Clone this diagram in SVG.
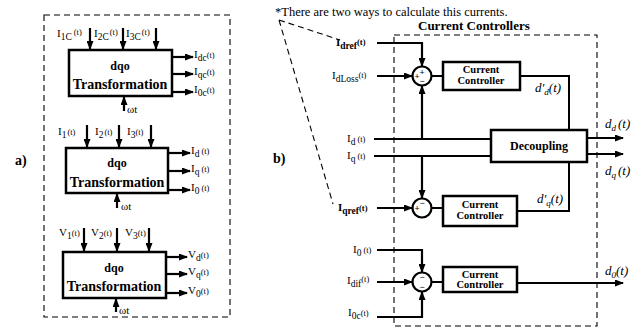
<svg xmlns="http://www.w3.org/2000/svg" width="636" height="329" viewBox="0 0 636 329">
<defs>
<marker id="ah" markerUnits="userSpaceOnUse" markerWidth="9" markerHeight="7" refX="8" refY="3.5" orient="auto">
<path d="M0,0 L9,3.5 L0,7 z" fill="#000"/>
</marker>
<style>
text{font-family:"Liberation Serif","Times New Roman",serif;fill:#000}
.blk{fill:#fff;stroke:#000;stroke-width:2.5}
.ln{fill:none;stroke:#000;stroke-width:2}
.la{fill:none;stroke:#000;stroke-width:2.2;marker-end:url(#ah)}
.dash{fill:none;stroke:#000;stroke-width:1.1;stroke-dasharray:6 4}
.b{font-weight:bold}
.t1{font-size:14px;font-weight:bold;text-anchor:middle}
.t2{font-size:12px;font-weight:bold;text-anchor:middle}
.cc{font-size:10.5px;font-weight:bold;text-anchor:middle}
.lb{font-size:11px}
.s{font-size:9.5px}
.p{font-size:8.5px}
.it{font-style:italic;font-size:13px}
.sg{font-size:9px;font-weight:bold;text-anchor:middle}
</style>
</defs>

<!-- panel labels -->
<text x="15" y="165" font-size="14" class="b">a)</text>
<text x="273" y="163" font-size="14" class="b">b)</text>
<text x="275" y="16" font-size="12.5">*There are two ways to calculate this currents.</text>
<text x="418" y="30" font-size="13" class="b">Current Controllers</text>

<g id="connectors">
<!-- dashed frames -->
<rect class="dash" x="44" y="15" width="186" height="302"/>
<rect class="dash" x="394" y="35" width="203" height="291"/>
<path class="dash" d="M279,20 L340,40 M279,20 L333,204"/>

<!-- block 1 -->
<path class="la" d="M90,28 V49"/>
<path class="la" d="M123,28 V49"/>
<path class="la" d="M156,28 V49"/>
<path class="la" d="M173,57 H193"/>
<path class="la" d="M173,74 H193"/>
<path class="la" d="M173,92 H193"/>
<path class="la" d="M124,111 V97"/>
<!-- block 2 -->
<path class="la" d="M87,125 V147"/>
<path class="la" d="M119,125 V147"/>
<path class="la" d="M151,125 V147"/>
<path class="la" d="M169,153 H190"/>
<path class="la" d="M169,171 H190"/>
<path class="la" d="M169,190 H190"/>
<path class="la" d="M117,208 V194"/>
<!-- block 3 -->
<path class="la" d="M84,228 V251"/>
<path class="la" d="M117,228 V251"/>
<path class="la" d="M149,228 V251"/>
<path class="la" d="M167,257 H187"/>
<path class="la" d="M167,274 H187"/>
<path class="la" d="M167,293 H187"/>
<path class="la" d="M116,312 V299"/>

<!-- right -->
<path class="la" d="M377,43 H422 V66"/>
<path class="la" d="M377,76 H412"/>
<path class="ln" d="M374,139 H491"/>
<path class="ln" d="M374,156 H491"/>
<path class="la" d="M422,139 V86"/>
<path class="la" d="M422,156 V198"/>
<path class="la" d="M377,208 H412"/>
<path class="ln" d="M431.5,76 H443"/>
<path class="ln" d="M520,76 H569 V130"/>
<path class="ln" d="M569,162 V211 H517"/>
<path class="ln" d="M431.5,208 H443"/>
<path class="la" d="M588,138 H623"/>
<path class="la" d="M588,154 H623"/>
<path class="la" d="M377,250 H422 V272"/>
<path class="la" d="M377,282 H412"/>
<path class="la" d="M377,317 H422 V292"/>
<path class="ln" d="M431.5,282 H443"/>
<path class="la" d="M518,283 H623"/>
</g>

<!-- left nodes -->
<g id="dqo1">
<rect class="blk" x="69" y="50" width="103" height="46"/>
<text class="t2" x="120" y="70">dqo</text>
<text class="t1" x="120" y="89">Transformation</text>
</g>
<g id="dqo2">
<rect class="blk" x="66" y="148" width="102" height="45"/>
<text class="t2" x="117" y="167">dqo</text>
<text class="t1" x="117" y="187">Transformation</text>
</g>
<g id="dqo3">
<rect class="blk" x="63" y="252" width="103" height="46"/>
<text class="t2" x="114" y="272">dqo</text>
<text class="t1" x="114" y="291">Transformation</text>
</g>

<g id="leftlabels" class="lb">
<text x="57" y="37">I<tspan class="s" dy="3">1C</tspan><tspan class="p" dx="2" dy="-5">(t)</tspan></text>
<text x="94" y="37">I<tspan class="s" dy="3">2C</tspan><tspan class="p" dx="1" dy="-5">(t)</tspan></text>
<text x="126" y="37">I<tspan class="s" dy="3">3C</tspan><tspan class="p" dx="1" dy="-5">(t)</tspan></text>
<text x="194" y="58">I<tspan class="s" dy="3">dc</tspan><tspan class="p" dy="-3">(t)</tspan></text>
<text x="194" y="75">I<tspan class="s" dy="3">qc</tspan><tspan class="p" dy="-3">(t)</tspan></text>
<text x="194" y="93">I<tspan class="s" dy="3">0c</tspan><tspan class="p" dy="-3">(t)</tspan></text>
<text x="127" y="113">ωt</text>

<text x="58" y="135">I<tspan class="s" dy="3">1</tspan><tspan class="p" dx="1" dy="-3">(t)</tspan></text>
<text x="95" y="135">I<tspan class="s" dy="3">2</tspan><tspan class="p" dx="1" dy="-3">(t)</tspan></text>
<text x="127" y="135">I<tspan class="s" dy="3">3</tspan><tspan class="p" dy="-3">(t)</tspan></text>
<text x="191" y="154">I<tspan class="s" dy="3">d</tspan><tspan class="p" dx="2" dy="-3">(t)</tspan></text>
<text x="191" y="172">I<tspan class="s" dy="3">q</tspan><tspan class="p" dx="2" dy="-3">(t)</tspan></text>
<text x="191" y="191">I<tspan class="s" dy="3">0</tspan><tspan class="p" dx="2" dy="-3">(t)</tspan></text>
<text x="121" y="210">ωt</text>

<text x="59" y="236">V<tspan class="s" dy="3">1</tspan><tspan class="p" dy="-3">(t)</tspan></text>
<text x="91" y="236">V<tspan class="s" dy="3">2</tspan><tspan class="p" dy="-3">(t)</tspan></text>
<text x="125" y="236">V<tspan class="s" dy="3">3</tspan><tspan class="p" dy="-3">(t)</tspan></text>
<text x="188" y="258">V<tspan class="s" dy="3">d</tspan><tspan class="p" dy="-3">(t)</tspan></text>
<text x="188" y="275">V<tspan class="s" dy="3">q</tspan><tspan class="p" dy="-3">(t)</tspan></text>
<text x="188" y="294">V<tspan class="s" dy="3">0</tspan><tspan class="p" dy="-3">(t)</tspan></text>
<text x="119" y="314">ωt</text>
</g>

<!-- right nodes -->
<g id="sum1">
<circle cx="422" cy="76" r="9.5" fill="#fff" stroke="#000" stroke-width="2.2"/>
<text class="sg" x="422" y="75">+</text>
<text class="sg" x="417" y="79">+</text>
<text class="sg" x="422" y="84">−</text>
</g>
<g id="sum2">
<circle cx="422" cy="208" r="9.5" fill="#fff" stroke="#000" stroke-width="2.2"/>
<text class="sg" x="422" y="206">−</text>
<text class="sg" x="417" y="211">+</text>
</g>
<g id="sum3">
<circle cx="422" cy="282" r="9.5" fill="#fff" stroke="#000" stroke-width="2.2"/>
<text class="sg" x="422" y="280">−</text>
<text class="sg" x="422" y="290">−</text>
</g>
<g id="cc1">
<rect class="blk" x="443" y="62" width="77" height="28"/>
<text class="cc" x="481" y="73">Current</text>
<text class="cc" x="481" y="84">Controller</text>
</g>
<g id="cc2">
<rect class="blk" x="443" y="196" width="74" height="30"/>
<text class="cc" x="480" y="208">Current</text>
<text class="cc" x="480" y="219">Controller</text>
</g>
<g id="cc3">
<rect class="blk" x="443" y="267" width="74" height="25"/>
<text class="cc" x="480" y="278">Current</text>
<text class="cc" x="480" y="288">Controller</text>
</g>
<g id="decoupling">
<rect class="blk" x="491" y="130" width="96" height="32"/>
<text class="t2" x="539" y="150">Decoupling</text>
</g>

<g id="rightlabels" class="lb">
<text x="336" y="46" class="b">I<tspan class="s" dy="3">dref</tspan><tspan class="p" dy="-4">(t)</tspan></text>
<text x="332" y="79">I<tspan class="s" dy="3">dLoss</tspan><tspan class="p" dy="-4">(t)</tspan></text>
<text x="347" y="142">I<tspan class="s" dy="3">d</tspan><tspan class="p" dx="2" dy="-3">(t)</tspan></text>
<text x="347" y="159">I<tspan class="s" dy="3">q</tspan><tspan class="p" dx="2" dy="-3">(t)</tspan></text>
<text x="338" y="211" class="b">I<tspan class="s" dy="3">qref</tspan><tspan class="p" dy="-3">(t)</tspan></text>
<text x="353" y="253">I<tspan class="s" dy="3">0</tspan><tspan class="p" dx="2" dy="-3">(t)</tspan></text>
<text x="347" y="284">I<tspan class="s" dy="3">dif</tspan><tspan class="p" dy="-5">(t)</tspan></text>
<text x="348" y="316">I<tspan class="s" dy="3">0c</tspan><tspan class="p" dy="-3">(t)</tspan></text>
<text class="it" x="535" y="92">d′<tspan font-size="9" dy="3">d</tspan><tspan dy="-3">(t)</tspan></text>
<text class="it" x="537" y="203">d′<tspan font-size="9" dy="3">q</tspan><tspan dy="-3">(t)</tspan></text>
<text class="it" x="605" y="128">d<tspan font-size="9" dy="3">d</tspan><tspan dx="2" dy="-3">(t)</tspan></text>
<text class="it" x="605" y="175">d<tspan font-size="9" dy="3">q</tspan><tspan dx="2" dy="-3">(t)</tspan></text>
<text class="it" x="605" y="275">d<tspan font-size="9" dy="3">0</tspan><tspan dy="-3">(t)</tspan></text>
</g>
</svg>
